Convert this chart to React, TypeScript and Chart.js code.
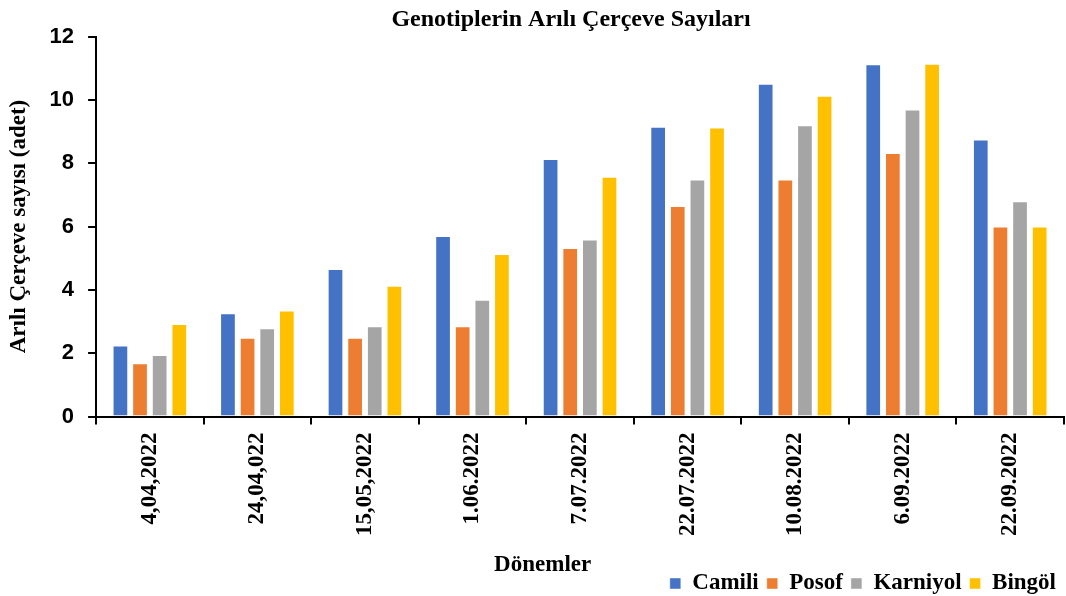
import React, { useEffect, useRef } from "react";
import { Chart, registerables } from "chart.js";

Chart.register(...registerables);

const categories = ["4,04,2022", "24,04,022", "15,05,2022", "1.06.2022", "7.07.2022", "22.07.2022", "10.08.2022", "6.09.2022", "22.09.2022"];
const camili = [2.24, 3.26, 4.66, 5.70, 8.13, 9.15, 10.51, 11.13, 8.75];
const posof = [1.68, 2.49, 2.49, 2.85, 5.32, 6.65, 7.49, 8.32, 6.0];
const karniyol = [1.94, 2.79, 2.85, 3.69, 5.59, 7.49, 9.20, 9.70, 6.80];
const bingol = [2.92, 3.35, 4.13, 5.13, 7.57, 9.13, 10.13, 11.14, 6.0];
const yTicks = [0, 2, 4, 6, 8, 10, 12];

const serif = "'Liberation Serif', 'Times New Roman', serif";
const sans = "'Liberation Sans', Arial, sans-serif";
const nbsp = "\u00A0";

export default function App() {
  const ref = useRef<HTMLCanvasElement>(null);
  useEffect(() => {
    document.body.style.margin = "0";
    const ctx = ref.current!;
    const mk = (label: string, data: number[], color: string) => ({
      label,
      data,
      backgroundColor: color,
      borderColor: "rgba(255,255,255,0.45)",
      borderWidth: 1,
      categoryPercentage: 0.73,
      barPercentage: 0.8,
    });
    const chart = new Chart(ctx, {
      type: "bar",
      data: {
        labels: categories,
        datasets: [
          mk("Camili", camili, "#4472C4"),
          mk("Posof", posof, "#ED7D31"),
          mk("Karniyol", karniyol, "#A5A5A5"),
          mk("Bingöl", bingol, "#FFC000"),
        ],
      },
      options: {
        animation: false,
        responsive: false,
        maintainAspectRatio: false,
        layout: { padding: { left: 4, right: 2, top: 0, bottom: -9 } },
        plugins: {
          title: {
            display: true,
            fullSize: false,
            text: "Genotiplerin Arılı Çerçeve Sayıları" + nbsp.repeat(3),
            color: "#000",
            font: { family: serif, size: 24, weight: "bold", lineHeight: 1.15 },
            padding: { top: 6, bottom: 3 },
          },
          legend: {
            display: true,
            position: "bottom",
            align: "end",
            labels: {
              color: "#000",
              boxWidth: 11,
              boxHeight: 11,
              padding: 8,
              font: { family: serif, size: 23, weight: "bold", lineHeight: 1 },
            },
          },
          tooltip: { enabled: false },
        },
        scales: {
          x: {
            offset: true,
            grid: {
              display: true,
              offset: true,
              drawOnChartArea: false,
              drawTicks: true,
              tickLength: 8,
              color: "#000",
              lineWidth: 2,
            },
            border: { display: true, color: "#000", width: 2 },
            ticks: {
              color: "#000",
              maxRotation: 90,
              minRotation: 90,
              padding: 8,
              font: { family: serif, size: 23, weight: "bold" },
            },
            title: {
              display: true,
              text: "Dönemler" + nbsp.repeat(13),
              color: "#000",
              font: { family: serif, size: 23, weight: "bold", lineHeight: 1 },
              padding: { top: 10, bottom: -13 },
            },
          },
          y: {
            min: 0,
            max: 12,
            afterBuildTicks: (axis: any) => {
              axis.ticks = yTicks.map((v) => ({ value: v }));
            },
            grid: {
              display: true,
              drawOnChartArea: false,
              drawTicks: true,
              tickLength: 8,
              color: "#000",
              lineWidth: 2,
            },
            border: { display: true, color: "#000", width: 2 },
            ticks: {
              color: "#000",
              padding: 14,
              font: { family: sans, size: 22, weight: "bold" },
            },
            title: {
              display: true,
              text: "Arılı Çerçeve sayısı (adet)",
              color: "#000",
              font: { family: serif, size: 23, weight: "bold", lineHeight: 1.2 },
              padding: { top: 1, bottom: 3 },
            },
          },
        },
      },
    } as any);
    return () => chart.destroy();
  }, []);
  return (
    <div style={{ width: 1066, height: 596 }}>
      <canvas ref={ref} width={1066} height={596} style={{ display: "block" }} />
    </div>
  );
}
